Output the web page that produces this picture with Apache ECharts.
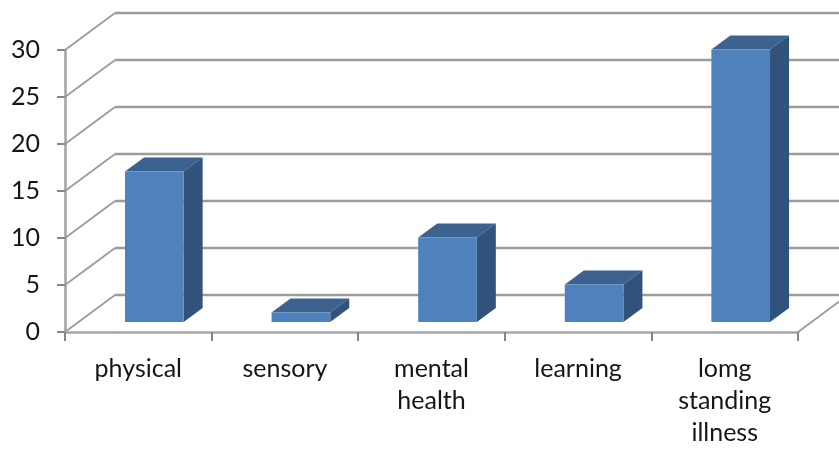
<!DOCTYPE html>
<html>
<head>
<meta charset="utf-8">
<style>html,body{margin:0;padding:0;background:#fff}#c{width:839px;height:449px}</style>
<script src="https://cdn.jsdelivr.net/npm/echarts@6/dist/echarts.min.js"></script>
</head>
<body>
<div id="c"></div>
<script>
const categories = ['physical', 'sensory', 'mental\nhealth', 'learning', 'lomg\nstanding\nillness'];
const values = [16, 1, 9, 4, 29];
const gridValues = [0, 5, 10, 15, 20, 25, 30];

const WALL_DX = 50, WALL_DY = -37;
const BAR_DX = 16, BAR_DY = -10;
const SIDE_DX = 19, SIDE_DY = -14;
const GRID_COLOR = '#9c9c9c';
const AXIS_COLOR = '#a6a6a6';
const TICK_COLOR = '#868686';
const TEXT_COLOR = '#161616';
const FONT = 'Lato';

function renderWall(params, api) {
  const cs = params.coordSys;
  const v = api.value(0);
  const y = api.coord([0, v])[1];
  const x0 = cs.x;
  const x1 = cs.x + cs.width;
  const style = { stroke: GRID_COLOR, lineWidth: 2.6, fill: null };
  const thin = { stroke: GRID_COLOR, lineWidth: 1.8, fill: null };
  const children = [
    { type: 'line', shape: { x1: x0, y1: y, x2: x0 + WALL_DX, y2: y + WALL_DY }, style: thin },
    { type: 'line', shape: { x1: x0 + WALL_DX, y1: y + WALL_DY, x2: x1 + WALL_DX, y2: y + WALL_DY }, style: style }
  ];
  if (v === 0) {
    children.push({ type: 'line', shape: { x1: x1, y1: y, x2: x1 + WALL_DX, y2: y + WALL_DY }, style: thin });
  }
  return { type: 'group', children: children };
}

function renderBar(params, api) {
  const i = api.value(0);
  const v = api.value(1);
  const top = api.coord([i, v]);
  const base = api.coord([i, 0]);
  const w = api.size([1, 0])[0] * 0.4;
  const l = top[0] - w / 2 + BAR_DX;
  const r = l + w;
  const t = top[1] + BAR_DY;
  const b = base[1] + BAR_DY;
  return {
    type: 'group',
    children: [
      { type: 'polygon', shape: { points: [[l, t], [r, t], [r + SIDE_DX, t + SIDE_DY], [l + SIDE_DX, t + SIDE_DY]] }, style: { fill: '#3C6290' } },
      { type: 'polygon', shape: { points: [[r, t], [r + SIDE_DX, t + SIDE_DY], [r + SIDE_DX, b + SIDE_DY], [r, b]] }, style: { fill: '#31527B' } },
      { type: 'rect', shape: { x: l, y: t, width: w, height: b - t }, style: { fill: '#4F81BD' } }
    ]
  };
}

const chart = echarts.init(document.getElementById('c'), null, { renderer: 'canvas' });
chart.setOption({
  animation: false,
  backgroundColor: '#ffffff',
  grid: { left: 65, right: 41, top: 50, bottom: 116, containLabel: false },
  xAxis: {
    type: 'category',
    data: categories,
    boundaryGap: true,
    axisLine: { show: true, lineStyle: { color: AXIS_COLOR, width: 2.6 } },
    axisTick: { show: true, alignWithLabel: false, length: 9, lineStyle: { color: TICK_COLOR, width: 2 } },
    axisLabel: { interval: 0, color: TEXT_COLOR, fontFamily: FONT, fontSize: 25, lineHeight: 32, margin: 21 },
    splitLine: { show: false }
  },
  yAxis: {
    type: 'value',
    min: 0,
    max: 30,
    interval: 5,
    axisLine: { show: true, lineStyle: { color: AXIS_COLOR, width: 2.6 } },
    axisTick: { show: true, length: 8, lineStyle: { color: TICK_COLOR, width: 2 } },
    axisLabel: { color: TEXT_COLOR, fontFamily: FONT, fontSize: 25, margin: 25, padding: [8, 0, 0, 0] },
    splitLine: { show: false }
  },
  series: [
    {
      type: 'custom',
      z: 1,
      silent: true,
      clip: false,
      data: gridValues.map(v => [v]),
      encode: { y: 0 },
      renderItem: renderWall
    },
    {
      type: 'custom',
      z: 3,
      clip: false,
      data: values.map((v, i) => [i, v]),
      encode: { x: 0, y: 1 },
      renderItem: renderBar
    }
  ]
});
</script>
</body>
</html>
